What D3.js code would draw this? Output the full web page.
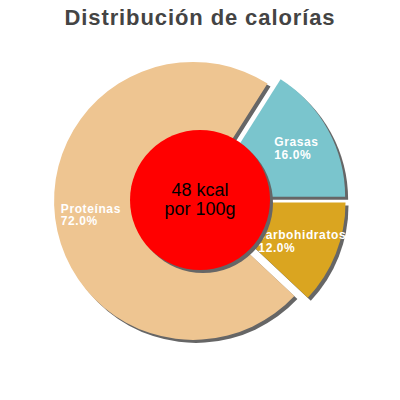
<!DOCTYPE html>
<html>
<head>
<meta charset="utf-8">
<script src="https://cdn.jsdelivr.net/npm/d3@7"></script>
<style>
  body { margin: 0; background: #fff; }
  text { font-family: "Liberation Sans", Arial, sans-serif; }
  .title { font-size: 22px; font-weight: bold; fill: #444; letter-spacing: 0.9px; }
  .sliceLabel { font-size: 12px; font-weight: bold; fill: #fff; letter-spacing: 0.6px; }
  .center { font-size: 18px; fill: #000; }
</style>
</head>
<body>
<div id="chart"></div>
<script>
// data
var categories = ["Grasas", "carbohidratos", "Proteínas"];
var percents = [16.0, 12.0, 72.0];
var centerLines = ["48 kcal", "por 100g"];
var titleText = "Distribución de calorías";

var colors = d3.scaleOrdinal()
	.domain(categories)
	.range(["#7ac5cd", "#daa520", "#eec591"]);

var width = 400, height = 400;
var cx = 200, cy = 200;
var radius = 139, innerR = 70, explode = 7, labelR = 103;

var svg = d3.select("#chart").append("svg")
	.attr("width", width)
	.attr("height", height);

svg.append("text")
	.attr("class", "title")
	.attr("x", width / 2)
	.attr("y", 25)
	.attr("text-anchor", "middle")
	.text(titleText);

// pie starts so that Grasas ends exactly at 3 o'clock
var start = Math.PI / 2 - percents[0] / 100 * 2 * Math.PI;
var pie = d3.pie().sort(null).startAngle(start).endAngle(start + 2 * Math.PI);
var arcs = pie(percents);
var arc = d3.arc().innerRadius(0).outerRadius(radius);

function offset(d) {
	var a = (d.startAngle + d.endAngle) / 2;
	return [explode * Math.sin(a), -explode * Math.cos(a)];
}

var g = svg.append("g").attr("transform", "translate(" + cx + "," + cy + ")");

//shadows first
g.selectAll(".shadow")
	.data(arcs)
	.enter().append("path")
	.attr("class", "shadow")
	.attr("d", arc)
	.attr("fill", "#666")
	.attr("transform", function(d) { var o = offset(d); return "translate(" + (o[0] + 3) + "," + (o[1] + 3) + ")"; });

g.selectAll(".slice")
	.data(arcs)
	.enter().append("path")
	.attr("class", "slice")
	.attr("d", arc)
	.attr("fill", function(d, i) { return colors(categories[i]); })
	.attr("transform", function(d) { var o = offset(d); return "translate(" + o[0] + "," + o[1] + ")"; });

//labels, left aligned block centred on a point inside the slice
arcs.forEach(function(d, i) {
	var o = offset(d);
	var a = (d.startAngle + d.endAngle) / 2;
	var px = o[0] + labelR * Math.sin(a);
	var py = o[1] - labelR * Math.cos(a);
	var t = g.append("text").attr("class", "sliceLabel");
	t.append("tspan").attr("x", 0).attr("y", 0).text(categories[i]);
	t.append("tspan").attr("x", 0).attr("y", 12.5).text(percents[i].toFixed(1) + "%");
	var bb = t.node().getBBox();
	t.attr("transform", "translate(" + (px - bb.width / 2) + "," + (py - 1) + ")");
});

//centre circle
g.append("circle")
	.attr("cx", 3).attr("cy", 3)
	.attr("r", innerR)
	.attr("fill", "#666");
g.append("circle")
	.attr("r", innerR)
	.attr("fill", "#ff0000");

g.selectAll(".center")
	.data(centerLines)
	.enter().append("text")
	.attr("class", "center")
	.attr("text-anchor", "middle")
	.attr("y", function(d, i) { return -4 + i * 18.5; })
	.text(function(d) { return d; });
</script>
</body>
</html>
